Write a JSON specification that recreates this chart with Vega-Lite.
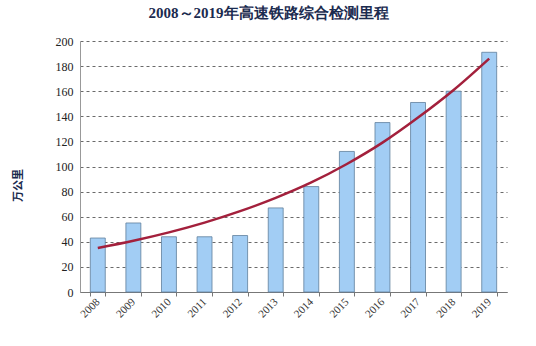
{
  "$schema": "https://vega.github.io/schema/vega-lite/v6.json",
  "width": 427,
  "height": 251,
  "autosize": {"type": "none"},
  "padding": {"left": 80, "top": 41, "right": 29, "bottom": 54},
  "background": "white",
  "title": {
    "text": "2008～2019年高速铁路综合检测里程",
    "font": "Liberation Serif",
    "fontSize": 15,
    "fontWeight": "bold",
    "color": "#1b2b4f",
    "anchor": "middle",
    "dx": -25,
    "offset": 14
  },
  "data": {
    "values": [
      {"year": "2008", "km": 43, "trend": 35},
      {"year": "2009", "km": 55, "trend": 40.8},
      {"year": "2010", "km": 44, "trend": 47.5},
      {"year": "2011", "km": 44, "trend": 55.3},
      {"year": "2012", "km": 45, "trend": 64.4},
      {"year": "2013", "km": 67, "trend": 75},
      {"year": "2014", "km": 84, "trend": 87.3},
      {"year": "2015", "km": 112, "trend": 102},
      {"year": "2016", "km": 135, "trend": 119},
      {"year": "2017", "km": 151, "trend": 139},
      {"year": "2018", "km": 160, "trend": 161},
      {"year": "2019", "km": 191, "trend": 186}
    ]
  },
  "encoding": {
    "x": {
      "field": "year",
      "type": "ordinal",
      "scale": {"paddingInner": 0.58, "paddingOuter": 0.29},
      "axis": {
        "title": null,
        "labelAngle": -45,
        "labelAlign": "right",
        "labelBaseline": "middle",
        "labelFont": "Liberation Serif",
        "labelFontSize": 11,
        "labelColor": "#333",
        "labelPadding": 4,
        "tickBand": "extent",
        "tickColor": "#777",
        "tickSize": 4,
        "domainColor": "#777",
        "grid": false
      }
    }
  },
  "layer": [
    {
      "mark": {"type": "bar", "fill": "#a2cdf4", "stroke": "#5f7f9c", "strokeWidth": 0.8},
      "encoding": {
        "y": {
          "field": "km",
          "type": "quantitative",
          "scale": {"domain": [0, 200]},
          "axis": {"title": "万公里", "values": [0, 20, 40, 60, 80, 100, 120, 140, 160, 180, 200]}
        }
      }
    },
    {
      "mark": {"type": "line", "color": "#a3203c", "strokeWidth": 2.5, "interpolate": "monotone"},
      "encoding": {
        "y": {
          "field": "trend",
          "type": "quantitative",
          "scale": {"domain": [0, 200]},
          "axis": {"title": "万公里", "values": [0, 20, 40, 60, 80, 100, 120, 140, 160, 180, 200]}
        }
      }
    }
  ],
  "config": {
    "view": {"stroke": null},
    "axisY": {
      "titleFont": "Noto Sans CJK SC",
      "titleFontSize": 11,
      "titleFontWeight": "bold",
      "titleColor": "#1b2b4f",
      "titleX": -62,
      "titleY": 144,
      "titleAngle": -90,
      "titleAlign": "center",
      "titleBaseline": "middle",
      "labelOverlap": false,
      "labelFont": "Liberation Serif",
      "labelFontSize": 12,
      "labelColor": "#222",
      "labelPadding": 7,
      "tickSize": 0,
      "domainColor": "#999",
      "grid": true,
      "gridColor": "#444",
      "gridDash": [3, 3],
      "gridWidth": 0.8
    }
  }
}
